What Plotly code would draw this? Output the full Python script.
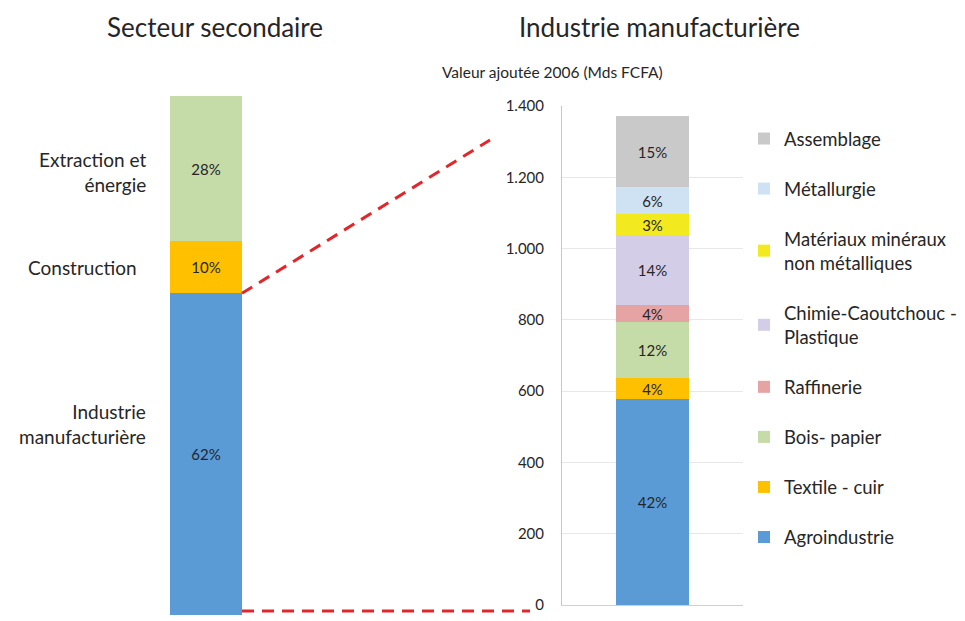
import plotly.graph_objects as go

# ---------------- data ----------------
left_categories = ["Industrie\nmanufacturière", "Construction", "Extraction et\nénergie"]
left_values = [62, 10, 28]
left_labels = ["62%", "10%", "28%"]

right_categories = ["Agroindustrie", "Textile - cuir", "Bois- papier", "Raffinerie",
                    "Chimie-Caoutchouc -<br>Plastique", "Matériaux minéraux<br>non métalliques",
                    "Métallurgie", "Assemblage"]
right_values = [578, 59, 157, 47, 197, 59, 75, 200]
right_labels = ["42%", "4%", "12%", "4%", "14%", "3%", "6%", "15%"]

y_ticks = [0, 200, 400, 600, 800, 1000, 1200, 1400]

left_colors = ["#5b9bd5", "#ffc000", "#c5dba8"]
right_colors = ["#5b9bd5", "#ffc000", "#c5dba8", "#e6a3a3", "#d3cde8", "#f2ea1f", "#cfe2f3", "#c9c9c9"]

# ---------------- layout helpers ----------------
W, H = 965, 621
def fx(p):
    return p / W
def fy(p):
    return 1 - p / H

FONT = "Lato"
TXT = "#262626"

fig = go.Figure()

for name, v, lab, c in zip(left_categories, left_values, left_labels, left_colors):
    fig.add_trace(go.Bar(x=[0], y=[v], name=name.replace("\n", " "), text=[lab],
                         marker=dict(color=c, line=dict(width=0)), width=1,
                         textposition="inside", insidetextanchor="middle", textangle=0,
                         constraintext="none",
                         textfont=dict(size=15, color=TXT, family=FONT),
                         xaxis="x", yaxis="y", showlegend=False, hoverinfo="skip"))

n = len(right_categories)
for i, (name, v, lab, c) in enumerate(zip(right_categories, right_values, right_labels, right_colors)):
    fig.add_trace(go.Bar(x=[0], y=[v], name=name, text=[lab],
                         marker=dict(color=c, line=dict(width=0)), width=0.403,
                         textposition="inside", insidetextanchor="middle", textangle=0,
                         constraintext="none",
                         textfont=dict(size=15, color=TXT, family=FONT),
                         xaxis="x2", yaxis="y2", legendgroup="g%d" % i, legendrank=n - i,
                         showlegend=True))

ldom = [fy(615), fy(96)]
rdom = [fy(605), fy(106)]
lx = [fx(170), fx(242)]
rx = [fx(562), fx(743)]

fig.update_layout(
    width=W, height=H,
    margin=dict(l=0, r=0, t=0, b=0, autoexpand=False),
    paper_bgcolor="white", plot_bgcolor="white",
    barmode="stack", bargap=0,
    separators=",.",
    font=dict(family=FONT, color=TXT),
    xaxis=dict(domain=lx, range=[-0.5, 0.5], visible=False, fixedrange=True),
    yaxis=dict(domain=ldom, range=[0, 100], visible=False, anchor="x"),
    xaxis2=dict(domain=rx, range=[-0.5, 0.5], anchor="y2", showticklabels=False,
                showgrid=False, showline=True, linecolor="#cfcfcf", zeroline=False),
    yaxis2=dict(domain=rdom, range=[0, 1400], anchor="x2", tickvals=y_ticks, tickformat=",",
                showgrid=True, gridcolor="#e8e8e8", showline=True, linecolor="#c8c8c8",
                zeroline=False, ticklabelstandoff=14,
                tickfont=dict(size=15, color=TXT, family=FONT)),
    legend=dict(x=fx(744), y=fy(120), xanchor="left", yanchor="top",
                traceorder="grouped", tracegroupgap=23,
                font=dict(size=18.5, color=TXT, family=FONT),
                itemwidth=30, bgcolor="rgba(0,0,0,0)"),
    showlegend=True,
)

# titles
for txt, px_x, px_y, size in [("Secteur secondaire", 215, 27, 26),
                              ("Industrie manufacturière", 659, 27, 26),
                              ("Valeur ajoutée 2006 (Mds FCFA)", 552, 72, 15.5)]:
    fig.add_annotation(x=fx(px_x), y=fy(px_y), xref="paper", yref="paper", text=txt,
                       showarrow=False, xanchor="center", yanchor="middle",
                       font=dict(size=size, color=TXT, family=FONT))

# left category labels, centred on their segments
base = 0
for i, (name, v) in enumerate(zip(left_categories, left_values)):
    centre = base + v / 2
    base += v
    fig.add_annotation(x=fx(148), y=centre, xref="paper", yref="y", text=name.replace("\n", "<br>"),
                       showarrow=False, xanchor="right", yanchor="middle", align="right",
                       yshift=30 if i == 0 else (-3 if i == 2 else 0),
                       xshift=-9 if i == 1 else 0,
                       font=dict(size=19, color=TXT, family=FONT))

# dashed connector lines
def ly(v):
    return ldom[0] + v / 100 * (ldom[1] - ldom[0])

red = dict(color="#e3262b", width=3, dash="12px,8px")
fig.add_shape(type="line", xref="paper", yref="paper", x0=lx[1], y0=ly(left_values[0]),
              x1=fx(490), y1=fy(140), line=red)
fig.add_shape(type="line", xref="paper", yref="paper", x0=lx[1], y0=fy(611),
              x1=fx(530), y1=fy(611), line=red)

fig.write_html("out.html", config={"displayModeBar": False},
               post_script="document.body.style.margin='0';")
